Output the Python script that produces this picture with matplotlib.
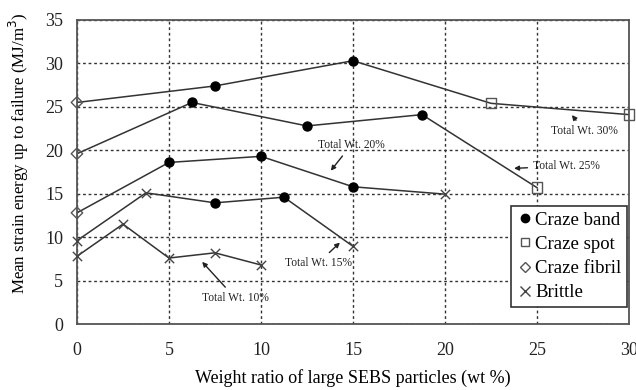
import matplotlib
matplotlib.use("Agg")
import matplotlib.pyplot as plt
from matplotlib.lines import Line2D

plt.rcParams['font.family'] = ['Liberation Serif', 'DejaVu Serif']

# data: weight ratio (wt%), strain energy (MJ/m3), failure mode per point
# modes: b = craze band, s = craze spot, f = craze fibril, x = brittle
x30 = [0, 7.5, 15, 22.5, 30]
y30 = [25.5, 27.4, 30.3, 25.4, 24.1]
m30 = ['f', 'b', 'b', 's', 's']

x25 = [0, 6.25, 12.5, 18.75, 25]
y25 = [19.6, 25.5, 22.8, 24.1, 15.7]
m25 = ['f', 'b', 'b', 'b', 's']

x20 = [0, 5, 10, 15, 20]
y20 = [12.8, 18.6, 19.3, 15.8, 14.95]
m20 = ['f', 'b', 'b', 'b', 'x']

x15 = [0, 3.75, 7.5, 11.25, 15]
y15 = [9.6, 15.1, 13.95, 14.6, 8.95]
m15 = ['x', 'x', 'b', 'b', 'x']

x10 = [0, 2.5, 5, 7.5, 10]
y10 = [7.8, 11.5, 7.6, 8.2, 6.8]
m10 = ['x', 'x', 'x', 'x', 'x']

series = [(x30, y30, m30), (x25, y25, m25), (x20, y20, m20),
          (x15, y15, m15), (x10, y10, m10)]

styles = {
    'b': dict(marker='o', s=42, facecolors='black', edgecolors='black'),
    's': dict(marker='s', s=55, facecolors='none', edgecolors='#555555', linewidths=1),
    'f': dict(marker='D', s=34, facecolors='none', edgecolors='#555555', linewidths=1),
    'x': dict(marker='x', s=45, c='#444444', linewidths=1),
}

fig = plt.figure(figsize=(6.36, 3.90), dpi=100)
ax = fig.add_axes([0.121, 0.169, 0.868, 0.780])

for xs, ys, ms in series:
    ax.plot(xs, ys, color='#333333', lw=1.1, zorder=2)
    for code in styles:
        px = [a for a, m in zip(xs, ms) if m == code]
        py = [b for b, m in zip(ys, ms) if m == code]
        if px:
            ax.scatter(px, py, zorder=3, clip_on=False, **styles[code])

ax.set_xlim(0, 30)
ax.set_ylim(0, 35)
ax.set_xticks(range(0, 31, 5))
ax.set_yticks(range(0, 36, 5))
ax.grid(True, linestyle=(0, (2, 2)), color='#333333', lw=1)
ax.tick_params(length=0, labelsize=13, colors='#222222')
ax.tick_params(axis='x', pad=13)
ax.tick_params(axis='y', pad=10)
for sp in ax.spines.values():
    sp.set_color('#555555')
    sp.set_linewidth(1.3)

ax.set_xlabel('Weight ratio of large SEBS particles (wt %)', fontsize=13, labelpad=7)
ax.set_ylabel('Mean strain energy up to failure (MJ/m$^3$)', fontsize=12.2)
ax.yaxis.set_label_coords(-0.084, 0.56)

# annotations
ann = dict(fontsize=8.3, color='#222222', ha='center', va='center')
arr = dict(arrowstyle='-|>', color='#222222', lw=1, mutation_scale=7)
ax.annotate('Total Wt. 30%', xy=(26.8, 24.3), xytext=(27.6, 22.2), arrowprops=arr, **ann)
ax.annotate('Total Wt. 25%', xy=(23.6, 17.9), xytext=(26.6, 18.2), arrowprops=arr, **ann)
ax.annotate('Total Wt. 20%', xy=(13.7, 17.4), xytext=(14.9, 20.6), arrowprops=arr, **ann)
ax.annotate('Total Wt. 15%', xy=(14.4, 9.6), xytext=(13.1, 7.0), arrowprops=arr, **ann)
ax.annotate('Total Wt. 10%', xy=(6.7, 7.4), xytext=(8.6, 3.0), arrowprops=arr, **ann)

handles = [
    Line2D([], [], ls='', marker='o', ms=6, mfc='black', mec='black'),
    Line2D([], [], ls='', marker='s', ms=6, mfc='none', mec='#555555'),
    Line2D([], [], ls='', marker='D', ms=5, mfc='none', mec='#555555'),
    Line2D([], [], ls='', marker='x', ms=7, mec='#444444'),
]
leg = ax.legend(handles, ['Craze band', 'Craze spot', 'Craze fibril', 'Brittle'],
                loc='lower right', bbox_to_anchor=(0.997, 0.056), borderaxespad=0,
                fontsize=13.5, handletextpad=0.1, handlelength=0.9, borderpad=0.3,
                labelspacing=0.38, fancybox=False, framealpha=1)
leg.get_frame().set_edgecolor('#333333')
leg.get_frame().set_linewidth(1.2)

fig.savefig('out.png', dpi=100)
